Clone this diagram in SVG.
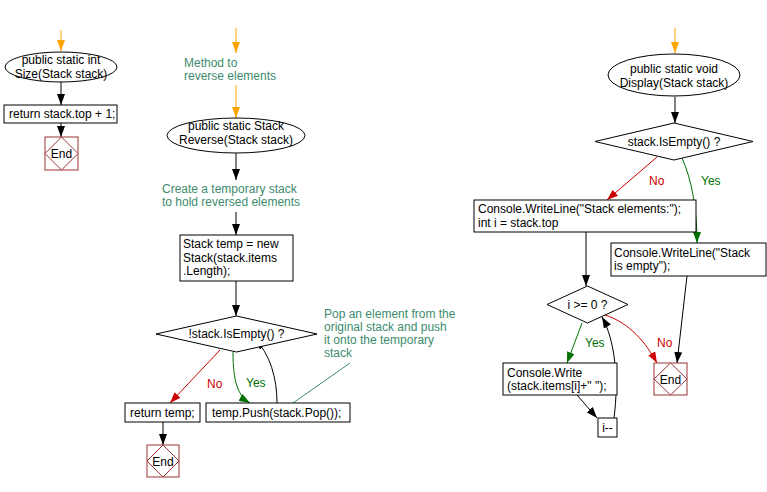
<svg xmlns="http://www.w3.org/2000/svg" width="767" height="492" viewBox="0 0 767 492">
<style>
text{font-family:"Liberation Sans",Arial,sans-serif;font-size:12px;fill:#000}
.c{text-anchor:middle}
.n{fill:#fff;stroke:#000;stroke-width:1}
.end{fill:#fff;stroke:#993333;stroke-width:1}
.cm{fill:#3d8b6d}
.red{fill:#cc0000}
.grn{fill:#007000}
.e{fill:none;stroke-width:1}
.k{stroke:#000;marker-end:url(#ak)}
.o{stroke:#ffa500;marker-end:url(#ao)}
.r{stroke:#cc0000;marker-end:url(#ar)}
.g{stroke:#007000;marker-end:url(#ag)}
.t{stroke:#3d8b6d}
</style>
<defs>
<marker id="ak" viewBox="0 0 11 8" refX="11" refY="4" markerWidth="11" markerHeight="8" markerUnits="userSpaceOnUse" orient="auto"><path d="M0,0L11,4L0,8z" fill="#000"/></marker>
<marker id="ao" viewBox="0 0 11 8" refX="11" refY="4" markerWidth="11" markerHeight="8" markerUnits="userSpaceOnUse" orient="auto"><path d="M0,0L11,4L0,8z" fill="#ffa500"/></marker>
<marker id="ar" viewBox="0 0 11 8" refX="11" refY="4" markerWidth="11" markerHeight="8" markerUnits="userSpaceOnUse" orient="auto"><path d="M0,0L11,4L0,8z" fill="#cc0000"/></marker>
<marker id="ag" viewBox="0 0 11 8" refX="11" refY="4" markerWidth="11" markerHeight="8" markerUnits="userSpaceOnUse" orient="auto"><path d="M0,0L11,4L0,8z" fill="#007000"/></marker>
</defs>
<rect width="767" height="492" fill="#fff"/>
<g id="connectors">
<path class="e o" d="M61,30L61,51"/>
<path class="e k" d="M61,82L61,105"/>
<path class="e k" d="M61,123L61,137"/>
<path class="e o" d="M236,28L236,53"/>
<path class="e o" d="M236,85L236,118"/>
<path class="e k" d="M236,153L236,180"/>
<path class="e k" d="M236,212L236,235"/>
<path class="e k" d="M236,281L236,316"/>
<path class="e r" d="M220,350L170,403"/>
<path class="e g" d="M233,352C233,382 238,396 250,403"/>
<path class="e k" d="M277,403C277,378 270,354 255,339"/>
<path class="e t" d="M293,403L350,363"/>
<path class="e k" d="M163,422L163,445"/>
<path class="e o" d="M675,28L675,53"/>
<path class="e k" d="M675,97L675,123"/>
<path class="e r" d="M657,157L607,200"/>
<path class="e g" d="M682,158C692,180 697,210 697,243"/>
<path class="e k" d="M586,232L586,286"/>
<path class="e g" d="M582,323L567,363"/>
<path class="e r" d="M605,315C630,323 646,343 657,363"/>
<path class="e k" d="M577,395L597,418"/>
<path class="e k" d="M614,418C619,380 615,340 602,317"/>
<path class="e k" d="M687,276L677,363"/>
<text x="207" y="388" class="red">No</text>
<text x="246" y="387" class="grn">Yes</text>
<text x="649" y="185" class="red">No</text>
<text x="701" y="185" class="grn">Yes</text>
<text x="585" y="347" class="grn">Yes</text>
<text x="657" y="347" class="red">No</text>
</g>
<g id="size-start">
<ellipse class="n" cx="61" cy="67" rx="56" ry="15"/>
<text x="61" y="64" class="c">public static int</text>
<text x="61" y="78" class="c">Size(Stack stack)</text>
</g>
<g id="size-return">
<rect class="n" x="4" y="105" width="113" height="18"/>
<text x="9" y="118">return stack.top + 1;</text>
</g>
<g id="size-end">
<rect class="end" x="45" y="137" width="33" height="33"/>
<path class="end" d="M61.5,137L78,153.5L61.5,170L45,153.5z"/>
<text x="61.5" y="158" class="c">End</text>
</g>
<g id="rev-comment1">
<text x="184" y="67" class="cm">Method to</text>
<text x="184" y="80" class="cm">reverse elements</text>
</g>
<g id="rev-start">
<ellipse class="n" cx="236" cy="135.5" rx="69" ry="17.5"/>
<text x="236" y="130" class="c">public static Stack</text>
<text x="236" y="144" class="c">Reverse(Stack stack)</text>
</g>
<g id="rev-comment2">
<text x="162" y="193" class="cm">Create a temporary stack</text>
<text x="162" y="206" class="cm">to hold reversed elements</text>
</g>
<g id="rev-temp">
<rect class="n" x="180" y="235" width="113" height="46"/>
<text x="183" y="248">Stack temp = new</text>
<text x="183" y="262">Stack(stack.items</text>
<text x="183" y="275">.Length);</text>
</g>
<g id="rev-cond">
<path class="n" d="M236.5,316L317,334L236.5,352L156,334z"/>
<text x="236.5" y="338" class="c">!stack.IsEmpty() ?</text>
</g>
<g id="rev-return">
<rect class="n" x="125" y="403" width="75" height="19"/>
<text x="130" y="417">return temp;</text>
</g>
<g id="rev-push">
<rect class="n" x="206" y="403" width="144" height="19"/>
<text x="212" y="417">temp.Push(stack.Pop());</text>
</g>
<g id="rev-comment3">
<text x="324" y="318" class="cm">Pop an element from the</text>
<text x="324" y="331" class="cm">original stack and push</text>
<text x="324" y="344" class="cm">it onto the temporary</text>
<text x="324" y="357" class="cm">stack</text>
</g>
<g id="rev-end">
<rect class="end" x="147" y="445" width="32" height="32"/>
<path class="end" d="M163,445L179,461L163,477L147,461z"/>
<text x="163" y="465.5" class="c">End</text>
</g>
<g id="disp-start">
<ellipse class="n" cx="674" cy="75" rx="66" ry="21"/>
<text x="674" y="73" class="c">public static void</text>
<text x="674" y="87" class="c">Display(Stack stack)</text>
</g>
<g id="disp-cond">
<path class="n" d="M674,123L753,141.5L674,160L595,141.5z"/>
<text x="674" y="146" class="c">stack.IsEmpty() ?</text>
</g>
<g id="disp-elements">
<rect class="n" x="474" y="200" width="222" height="32"/>
<text x="478" y="213">Console.WriteLine("Stack elements:");</text>
<text x="478" y="227">int i = stack.top</text>
</g>
<g id="disp-empty">
<rect class="n" x="611" y="243" width="155" height="33"/>
<text x="614" y="257">Console.WriteLine("Stack</text>
<text x="614" y="270">is empty");</text>
</g>
<g id="disp-loop">
<path class="n" d="M587.5,286L628,304.5L587.5,323L547,304.5z"/>
<text x="587.5" y="309" class="c">i &gt;= 0 ?</text>
</g>
<g id="disp-write">
<rect class="n" x="503" y="363" width="114" height="32"/>
<text x="507" y="377">Console.Write</text>
<text x="507" y="390">(stack.items[i]+" ");</text>
</g>
<g id="disp-dec">
<rect class="n" x="598" y="418" width="19" height="19"/>
<text x="607.5" y="432" class="c">i--</text>
</g>
<g id="disp-end">
<rect class="end" x="654" y="363" width="33" height="32"/>
<path class="end" d="M670.5,363L687,379L670.5,395L654,379z"/>
<text x="670.5" y="383.5" class="c">End</text>
</g>
</svg>
